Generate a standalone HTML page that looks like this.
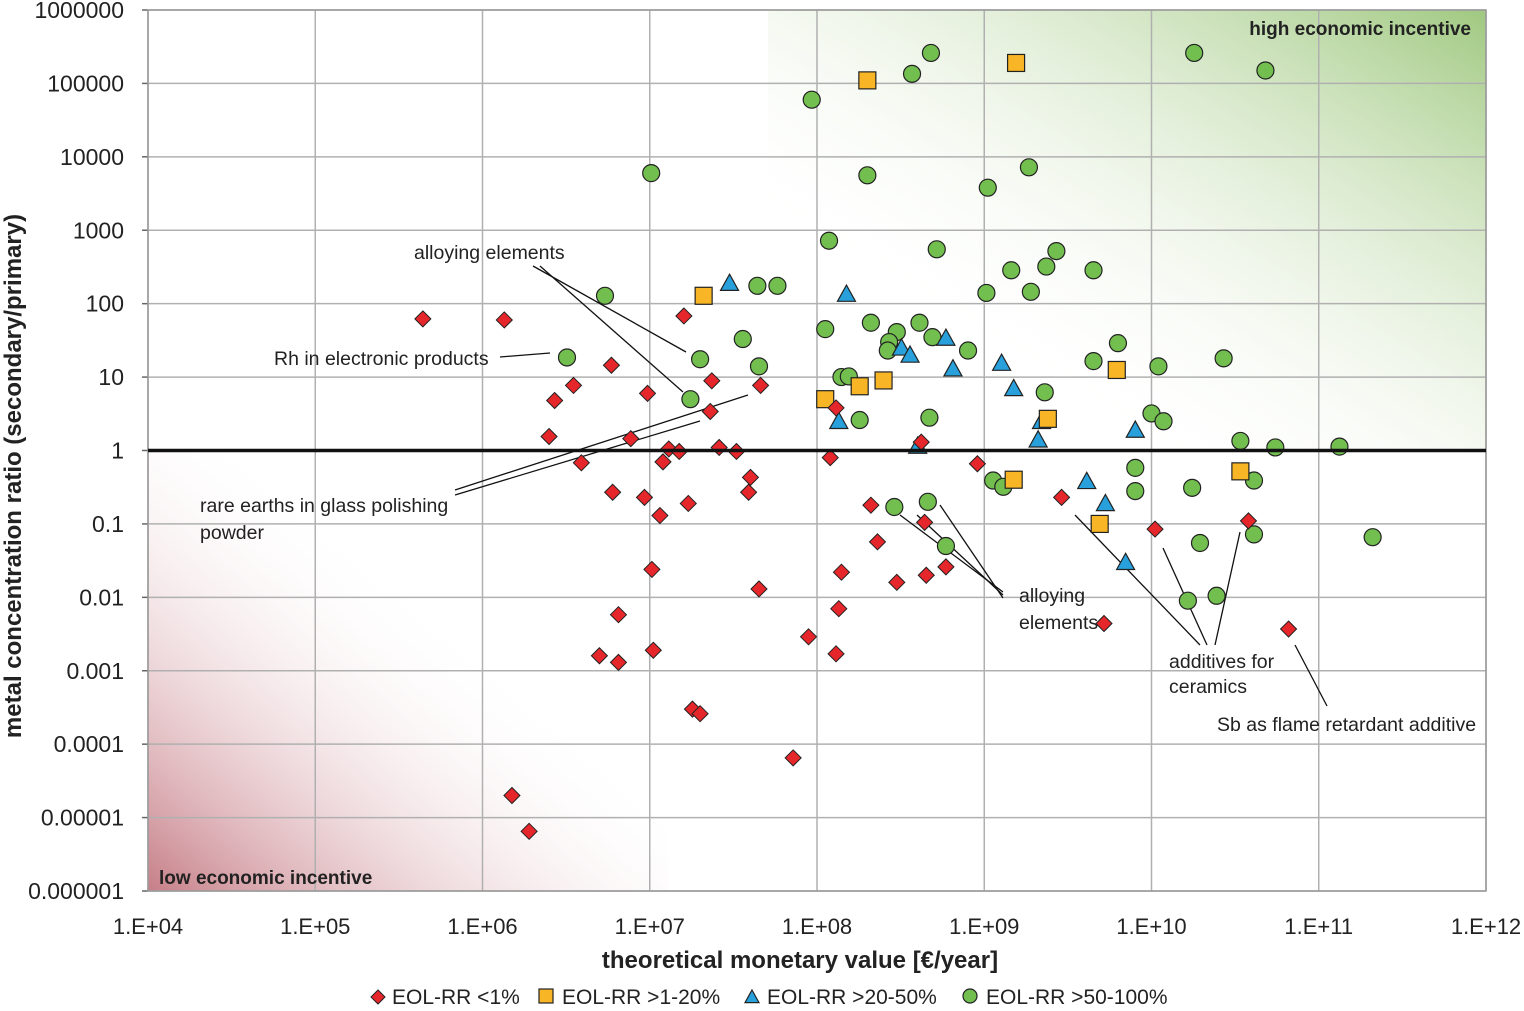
<!DOCTYPE html>
<html><head><meta charset="utf-8"><style>
html,body{margin:0;padding:0;background:#fff;}
svg text{font-family:"Liberation Sans",sans-serif;}
</style></head><body>
<svg id="chart" width="1524" height="1006" xmlns="http://www.w3.org/2000/svg">
<defs>
<linearGradient id="gGreen" x1="0" y1="1" x2="1" y2="0">
<stop offset="0.25" stop-color="#ffffff" stop-opacity="0"/>
<stop offset="1" stop-color="#8fbf6a" stop-opacity="0.85"/>
</linearGradient>
<linearGradient id="gRed" x1="0" y1="1" x2="1" y2="0">
<stop offset="0" stop-color="#c0707a" stop-opacity="0.9"/>
<stop offset="0.6" stop-color="#ffffff" stop-opacity="0"/>
</linearGradient>
</defs>
<g id="bg"></g>
<g id="grid"></g>
<g id="annot"></g>
<g id="marks"></g>
<g id="axes"></g>
</svg>
<script>
const xTicks=[1e4,1e5,1e6,1e7,1e8,1e9,1e10,1e11,1e12];
const xTickLabels=["1.E+04","1.E+05","1.E+06","1.E+07","1.E+08","1.E+09","1.E+10","1.E+11","1.E+12"];
const yTicks=[1e6,1e5,1e4,1e3,100,10,1,0.1,0.01,0.001,1e-4,1e-5,1e-6];
const yTickLabels=["1000000","100000","10000","1000","100","10","1","0.1","0.01","0.001","0.0001","0.00001","0.000001"];
const redX=[4.4e5,1.35e6,1.6e7,2.7e6,3.5e6,5.9e6,9.7e6,2.35e7,2.3e7,4.6e7,2.5e6,3.9e6,6e6,7.7e6,1.3e7,1.5e7,1.2e7,9.3e6,1.15e7,1.7e7,2.6e7,3.3e7,4e7,3.9e7,1.3e8,1.2e8,4.2e8,9.1e8,2.9e9,2.1e8,2.3e8,3e8,4.5e8,5.9e8,4.4e8,1.4e8,1.35e8,1.3e8,8.9e7,4.5e7,1.03e7,6.5e6,5e6,6.5e6,1.05e7,1.8e7,2e7,7.2e7,1.5e6,1.9e6,5.2e9,1.05e10,3.8e10,6.6e10];
const redY=[62,60,68,4.8,7.7,14.5,6,8.9,3.4,7.7,1.55,0.68,0.27,1.45,1.05,0.97,0.7,0.23,0.13,0.19,1.1,0.97,0.43,0.27,3.8,0.8,1.3,0.66,0.23,0.18,0.057,0.016,0.02,0.026,0.105,0.022,0.007,0.0017,0.0029,0.013,0.024,0.0058,0.0016,0.0013,0.0019,0.0003,0.00026,6.5e-5,2e-5,6.5e-6,0.0044,0.085,0.11,0.0037];
const orangeX=[2e8,1.55e9,2.1e7,1.12e8,1.8e8,2.5e8,6.2e9,2.4e9,1.5e9,4.9e9,3.4e10];
const orangeY=[1.1e5,1.9e5,128,5,7.5,9,12.5,2.7,0.4,0.1,0.52];
const blueX=[3e7,1.5e8,3.2e8,3.6e8,5.9e8,6.5e8,1.27e9,1.5e9,1.35e8,4e8,2.2e9,2.1e9,8e9,4.1e9,5.3e9,7e9];
const blueY=[190,135,25,20,34,13,15.5,7,2.5,1.15,2.5,1.4,1.9,0.38,0.19,0.03];
const greenX=[4.8e8,3.7e8,1.8e10,4.8e10,9.3e7,1.02e7,2e8,1.05e9,1.85e9,1.18e8,5.2e8,2.7e9,1.45e9,2.35e9,4.5e9,1.9e9,1.03e9,5.4e6,4.4e7,5.8e7,1.12e8,2.1e8,4.1e8,3e8,2.7e8,2.65e8,4.9e8,8e8,3.6e7,2e7,4.5e7,3.2e6,1.4e8,1.55e8,6.3e9,4.5e9,1.1e10,2.7e10,1.75e7,2.3e9,1.8e8,4.7e8,1e10,1.18e10,3.4e10,5.5e10,1.33e11,8e9,8e9,1.75e10,4.1e10,1.13e9,1.3e9,2.9e8,4.6e8,5.9e8,4.1e10,1.95e10,2.1e11,1.65e10,2.45e10];
const greenY=[2.6e5,1.35e5,2.6e5,1.5e5,6e4,6000,5600,3800,7200,720,550,520,285,320,285,145,140,128,175,175,45,55,55,41,30,23,35,23,33,17.5,14,18.5,10,10.2,29,16.5,14,18,5,6.2,2.6,2.8,3.2,2.5,1.35,1.1,1.13,0.58,0.28,0.31,0.39,0.39,0.32,0.17,0.2,0.05,0.072,0.055,0.066,0.009,0.0105];

const NS="http://www.w3.org/2000/svg";
const L=148,R=1486,T=10,B=891;
function sx(v){return L+(Math.log10(v)-4)*(R-L)/8;}
function sy(v){return T+(6-Math.log10(v))*(B-T)/12;}
function mk(tag,attrs,parent,text){const e=document.createElementNS(NS,tag);for(const k in attrs)e.setAttribute(k,attrs[k]);if(text!==undefined)e.textContent=text;parent.appendChild(e);return e;}
const bg=document.getElementById('bg'),grid=document.getElementById('grid'),annot=document.getElementById('annot'),marks=document.getElementById('marks'),axes=document.getElementById('axes');

let e;
e=mk('rect',{x:768,y:T,width:R-768,height:sy(1)-T,fill:'url(#gGreen)'},bg);


e=mk('rect',{x:L,y:sy(1),width:520,height:B-sy(1),fill:'url(#gRed)'},bg);



xTicks.forEach((t,i)=>{
 e=mk('line',{x1:sx(t),x2:sx(t),y1:T,y2:B,stroke:'#b0b0b0','stroke-width':1.5},grid);
 
 
 e=mk('text',{x:sx(t),y:934,'text-anchor':'middle','font-size':22,fill:'#222'},axes,xTickLabels[i]);
 
 
});
yTicks.forEach((t,i)=>{
 e=mk('line',{x1:L,x2:R,y1:sy(t),y2:sy(t),stroke:'#b0b0b0','stroke-width':1.5},grid);
 
 
 mk('line',{x1:L-6,x2:L,y1:sy(t),y2:sy(t),stroke:'#666','stroke-width':1.5},axes);
 e=mk('text',{x:124,y:sy(t)+8,'text-anchor':'end','font-size':23,fill:'#222'},axes,yTickLabels[i]);
 
 
});
mk('rect',{x:L,y:T,width:R-L,height:B-T,fill:'none',stroke:'#999','stroke-width':1.5},axes);
e=mk('line',{x1:L,x2:R,y1:sy(1),y2:sy(1),stroke:'#111','stroke-width':3.5},axes);



const lines=[[533,266,686,352],[540,266,683,392],[500,357,550,353],[455,490,748,395],[455,495,700,421],[1003,592,900,515],[1003,595,917,515],[1003,598,940,505],[1200,645,1075,515],[1207,645,1163,548],[1215,645,1240,532],[1327,706,1295,645]];
lines.forEach(l=>{mk('line',{x1:l[0],y1:l[1],x2:l[2],y2:l[3],stroke:'#111','stroke-width':1.3},annot);});
const labels=[[414,259,"alloying elements"],[274,365,"Rh in electronic products"],[200,512,"rare earths in glass polishing"],[200,539,"powder"],[1019,602,"alloying"],[1019,629,"elements"],[1169,668,"additives for"],[1169,693,"ceramics"],[1217,731,"Sb as flame retardant additive"]];
labels.forEach(t=>{e=mk('text',{x:t[0],y:t[1],'font-size':19.5,fill:'#222'},annot,t[2]);
 
 });
e=mk('text',{x:1471,y:35,'text-anchor':'end','font-size':19,'font-weight':'bold',fill:'#222'},annot,'high economic incentive');


e=mk('text',{x:159,y:884,'font-size':19,'font-weight':'bold',fill:'#222'},annot,'low economic incentive');



function diamond(cx,cy,p,s){return mk('path',{d:`M${cx} ${cy-s}L${cx+s} ${cy}L${cx} ${cy+s}L${cx-s} ${cy}Z`,fill:'#e5262a',stroke:'#222','stroke-width':1},p);}
function square(cx,cy,p,s){return mk('rect',{x:cx-s,y:cy-s,width:2*s,height:2*s,fill:'#f8b526',stroke:'#222','stroke-width':1.2},p);}
function tri(cx,cy,p,s){return mk('path',{d:`M${cx} ${cy-s}L${cx+s} ${cy+s*0.8}L${cx-s} ${cy+s*0.8}Z`,fill:'#27a0db',stroke:'#222','stroke-width':1.2},p);}
function circ(cx,cy,p,s){return mk('circle',{cx:cx,cy:cy,r:s,fill:'#72bf4f',stroke:'#222','stroke-width':1.2},p);}

greenX.forEach((v,i)=>{e=circ(sx(v),sy(greenY[i]),marks,8.5);
 
 });
blueX.forEach((v,i)=>{e=tri(sx(v),sy(blueY[i]),marks,9);
 
 });
orangeX.forEach((v,i)=>{e=square(sx(v),sy(orangeY[i]),marks,8.5);
 
 });
redX.forEach((v,i)=>{e=diamond(sx(v),sy(redY[i]),marks,8);
 
 });

e=mk('text',{x:800,y:968,'text-anchor':'middle','font-size':24,'font-weight':'bold',fill:'#222'},axes,'theoretical monetary value [€/year]');


e=mk('text',{x:0,y:0,'text-anchor':'middle','font-size':24,'font-weight':'bold',fill:'#222',transform:'translate(21,476) rotate(-90)'},axes,'metal concentration ratio (secondary/primary)');



const lg=mk('g',{},axes);


diamond(378,997,lg,7);mk('text',{x:392,y:1004,'font-size':21,fill:'#222'},lg,'EOL-RR <1%');
square(546,996,lg,7);mk('text',{x:562,y:1004,'font-size':21,fill:'#222'},lg,'EOL-RR >1-20%');
tri(752,997,lg,7);mk('text',{x:767,y:1004,'font-size':21,fill:'#222'},lg,'EOL-RR >20-50%');
circ(970,996,lg,7);mk('text',{x:986,y:1004,'font-size':21,fill:'#222'},lg,'EOL-RR >50-100%');
</script>
</body></html>
